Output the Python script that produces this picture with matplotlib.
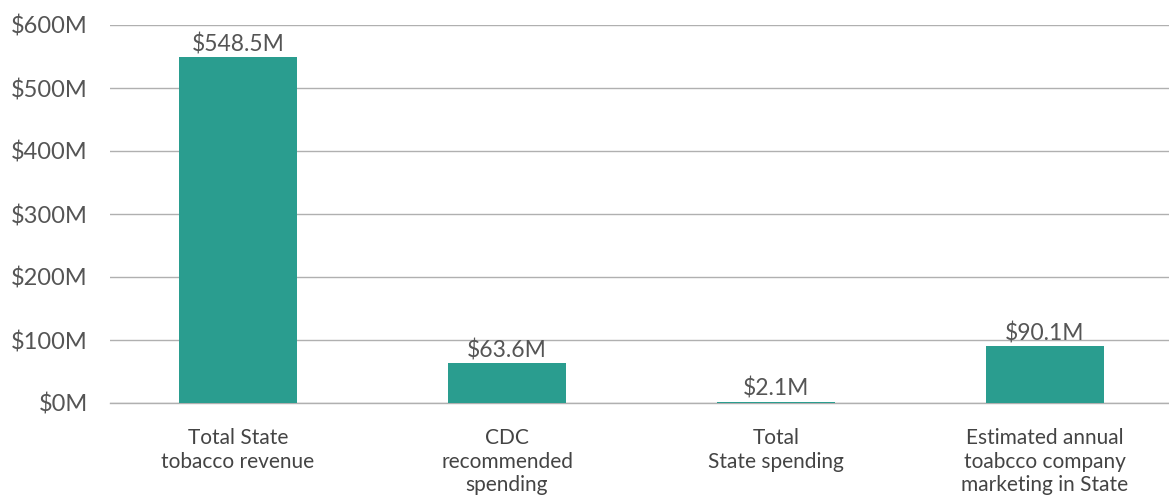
import matplotlib.pyplot as plt
import numpy as np

# donnees du graphique
categories = ["Total State\ntobacco revenue",
              "CDC\nrecommended\nspending",
              "Total\nState spending",
              "Estimated annual\ntoabcco company\nmarketing in State"]
valeurs = [548.5, 63.6, 2.1, 90.1]
etiquettes = ["$548.5M", "$63.6M", "$2.1M", "$90.1M"]
yticks = [0, 100, 200, 300, 400, 500, 600]

plt.rcParams['font.family'] = ['Lato', 'DejaVu Sans']

fig = plt.figure(figsize=(11.69, 5), dpi=100)
ax = fig.add_axes([110/1169, 97/500, 1 - 110/1169, 378/500])

x = np.arange(len(valeurs))
ax.bar(x, valeurs, width=0.44, color='#2a9d8f', zorder=3)

for xi, v, lab in zip(x, valeurs, etiquettes):
    ax.text(xi, v + 3, lab, ha='center', va='bottom', fontsize=16.5, color='#555555')

ax.set_ylim(0, 600)
ax.set_xlim(-0.476, 3.461)
ax.set_yticks(yticks)
ax.set_yticklabels(["$%dM" % t for t in yticks], fontsize=17, color='#555555')
ax.set_xticks(x)
ax.set_xticklabels(categories, fontsize=15, color='#444444', linespacing=1.22)
ax.tick_params(axis='both', length=0)
ax.tick_params(axis='y', pad=16)
ax.tick_params(axis='x', pad=18)
ax.grid(axis='y', color='#b0b0b0', linewidth=1, zorder=0)
ax.axhline(0, color='#b0b0b0', linewidth=1, zorder=1, clip_on=False)
for s in ax.spines.values():
    s.set_visible(False)

fig.savefig('out.png', dpi=100)
